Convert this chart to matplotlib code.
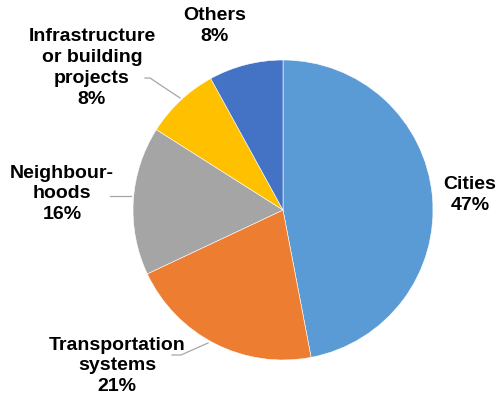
import matplotlib
matplotlib.use("Agg")
import matplotlib.pyplot as plt

categories = ["Cities", "Transportation\nsystems", "Neighbour-\nhoods",
              "Infrastructure\nor building\nprojects", "Others"]
values = [47, 21, 16, 8, 8]
colors = ["#5B9BD5", "#ED7D31", "#A5A5A5", "#FFC000", "#4472C4"]

plt.rcParams['font.family'] = ['Liberation Sans', 'DejaVu Sans']

W, H = 501, 397
fig = plt.figure(figsize=(W / 100, H / 100), dpi=100)
ax = fig.add_axes([0, 0, 1, 1])
cx, cy, r = 283, H - 210, 150
ax.pie(values, colors=colors, startangle=90, counterclock=False,
       center=(cx, cy), radius=r, frame=True,
       wedgeprops=dict(edgecolor="white", linewidth=0.4))
ax.set_xlim(0, W)
ax.set_ylim(0, H)
ax.set_aspect("equal")
ax.axis("off")

label_pos = [(470, 195), (117, 366), (62, 194), (92, 68), (215, 26)]
for cat, v, (x, y) in zip(categories, values, label_pos):
    ax.text(x, H - y, f"{cat}\n{v}%", ha="center", va="center",
            fontsize=14, fontweight="bold", color="#000000", linespacing=1.3)

leaders = [((145, 78), (150, 78), (180, 98)),
           ((110, 196), (131, 196)),
           ((172, 355), (181, 355), (208, 343))]
for pts in leaders:
    xs = [p[0] for p in pts]
    ys = [H - p[1] for p in pts]
    ax.plot(xs, ys, color="#A6A6A6", linewidth=0.9)

fig.savefig("out.png", dpi=100)
